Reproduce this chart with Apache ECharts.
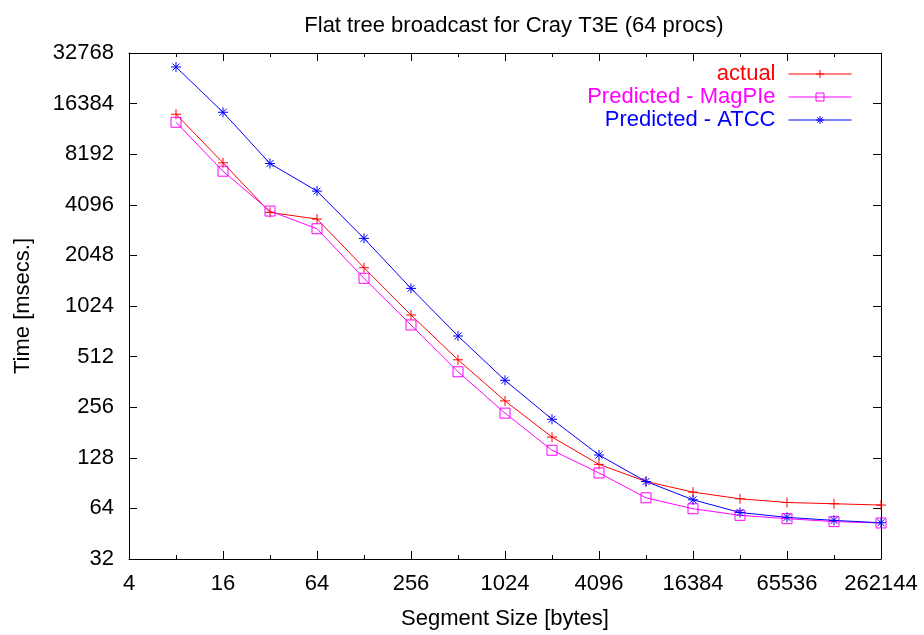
<!DOCTYPE html>
<html>
<head>
<meta charset="utf-8">
<script src="https://cdn.jsdelivr.net/npm/echarts@6/dist/echarts.min.js"></script>
<style>
  html, body { margin: 0; padding: 0; background: #fff; }
  #container { width: 924px; height: 635px; }
</style>
</head>
<body>
<div id="container"></div>
<script>
// segment sizes in bytes (x) and times in msecs (y)
var sizes = [8, 16, 32, 64, 128, 256, 512, 1024, 2048, 4096, 8192, 16384, 32768, 65536, 131072, 262144];
var actual = [14160, 7280, 3690, 3370, 1730, 905, 490, 279, 170, 117, 92.5, 80, 73, 69.4, 68.2, 67];
var magpie = [12690, 6490, 3760, 2950, 1496, 790, 416, 236, 142, 104, 74, 63.7, 58.2, 55.6, 53.4, 52.4];
var atcc = [27060, 14550, 7210, 4940, 2585, 1304, 679, 370, 217, 133, 92.5, 72, 60.5, 56.6, 54.3, 52.6];
var seriesNames = ['actual', 'Predicted - MagPIe', 'Predicted - ATCC'];
var seriesColors = ['#ff0000', '#ff00ff', '#0000ff'];

// gnuplot style point markers
var plusPath = 'path://M0,5H10M5,0V10';
var boxPath = 'path://M0,0H10V10H0Z';
var starPath = 'path://M0,5H10M5,0V10M1.5,1.5L8.5,8.5M1.5,8.5L8.5,1.5';
var symbols = [plusPath, boxPath, starPath];

var font = "'Liberation Sans', Arial, sans-serif";
var fs = 22;

// both axes are log2, drawn on exponent scale
function toPairs(ys) {
    return sizes.map(function (s, i) {
        return [Math.log2(s), Math.log2(ys[i])];
    });
}
function pow2(v) {
    return String(Math.round(Math.pow(2, v)));
}

var allData = [actual, magpie, atcc];

var xBase = {
    type: 'value', min: 2, max: 18, interval: 2,
    axisLine: { show: true, lineStyle: { color: '#000', width: 1 } },
    axisTick: { show: true, inside: true, length: 8, lineStyle: { color: '#000' } },
    minorTick: { show: true, splitNumber: 2, length: 4, lineStyle: { color: '#000' } },
    splitLine: { show: false }
};
var yBase = {
    type: 'value', min: 5, max: 15, interval: 1,
    axisLine: { show: true, lineStyle: { color: '#000', width: 1 } },
    axisTick: { show: true, inside: true, length: 8, lineStyle: { color: '#000' } },
    splitLine: { show: false }
};

var legends = [];
var legendTops = [58, 81, 104];
for (var k = 0; k < 3; k++) {
    legends.push({
        data: [seriesNames[k]],
        right: 67,
        top: legendTops[k],
        align: 'right',
        itemWidth: 63,
        itemHeight: 10,
        lineStyle: { width: 1 },
        itemStyle: { color: 'rgba(0,0,0,0)', borderColor: seriesColors[k], borderWidth: 1 },
        textStyle: { color: seriesColors[k], fontFamily: font, fontSize: fs, padding: [0, 8, 0, 0] }
    });
}

var series = [];
for (var k = 0; k < 3; k++) {
    series.push({
        name: seriesNames[k],
        type: 'line',
        data: toPairs(allData[k]),
        symbol: symbols[k],
        symbolSize: 10,
        showAllSymbol: true,
        animation: false,
        lineStyle: { color: seriesColors[k], width: 1 },
        itemStyle: { color: 'rgba(0,0,0,0)', borderColor: seriesColors[k], borderWidth: 1 }
    });
}

var chart = echarts.init(document.getElementById('container'));
chart.setOption({
    animation: false,
    title: {
        text: 'Flat tree broadcast for Cray T3E (64 procs)',
        left: 509, top: 10, textAlign: 'center',
        textStyle: { fontFamily: font, fontSize: fs, fontWeight: 'normal', color: '#000' }
    },
    legend: legends,
    grid: { left: 129, right: 43, top: 53, bottom: 76 },
    xAxis: [
        Object.assign({}, xBase, {
            position: 'bottom',
            name: 'Segment Size [bytes]', nameLocation: 'middle', nameGap: 49,
            nameTextStyle: { fontFamily: font, fontSize: fs, color: '#000' },
            axisLabel: { formatter: pow2, margin: 14, fontFamily: font, fontSize: fs, color: '#000' }
        }),
        Object.assign({}, xBase, { position: 'top', axisLabel: { show: false } })
    ],
    yAxis: [
        Object.assign({}, yBase, {
            position: 'left',
            name: 'Time [msecs.]', nameLocation: 'middle', nameGap: 95, nameRotate: 90,
            nameTextStyle: { fontFamily: font, fontSize: fs, color: '#000' },
            axisLabel: { formatter: pow2, margin: 15, fontFamily: font, fontSize: fs, color: '#000' }
        }),
        Object.assign({}, yBase, { position: 'right', axisLabel: { show: false } })
    ],
    series: series
});
</script>
</body>
</html>
